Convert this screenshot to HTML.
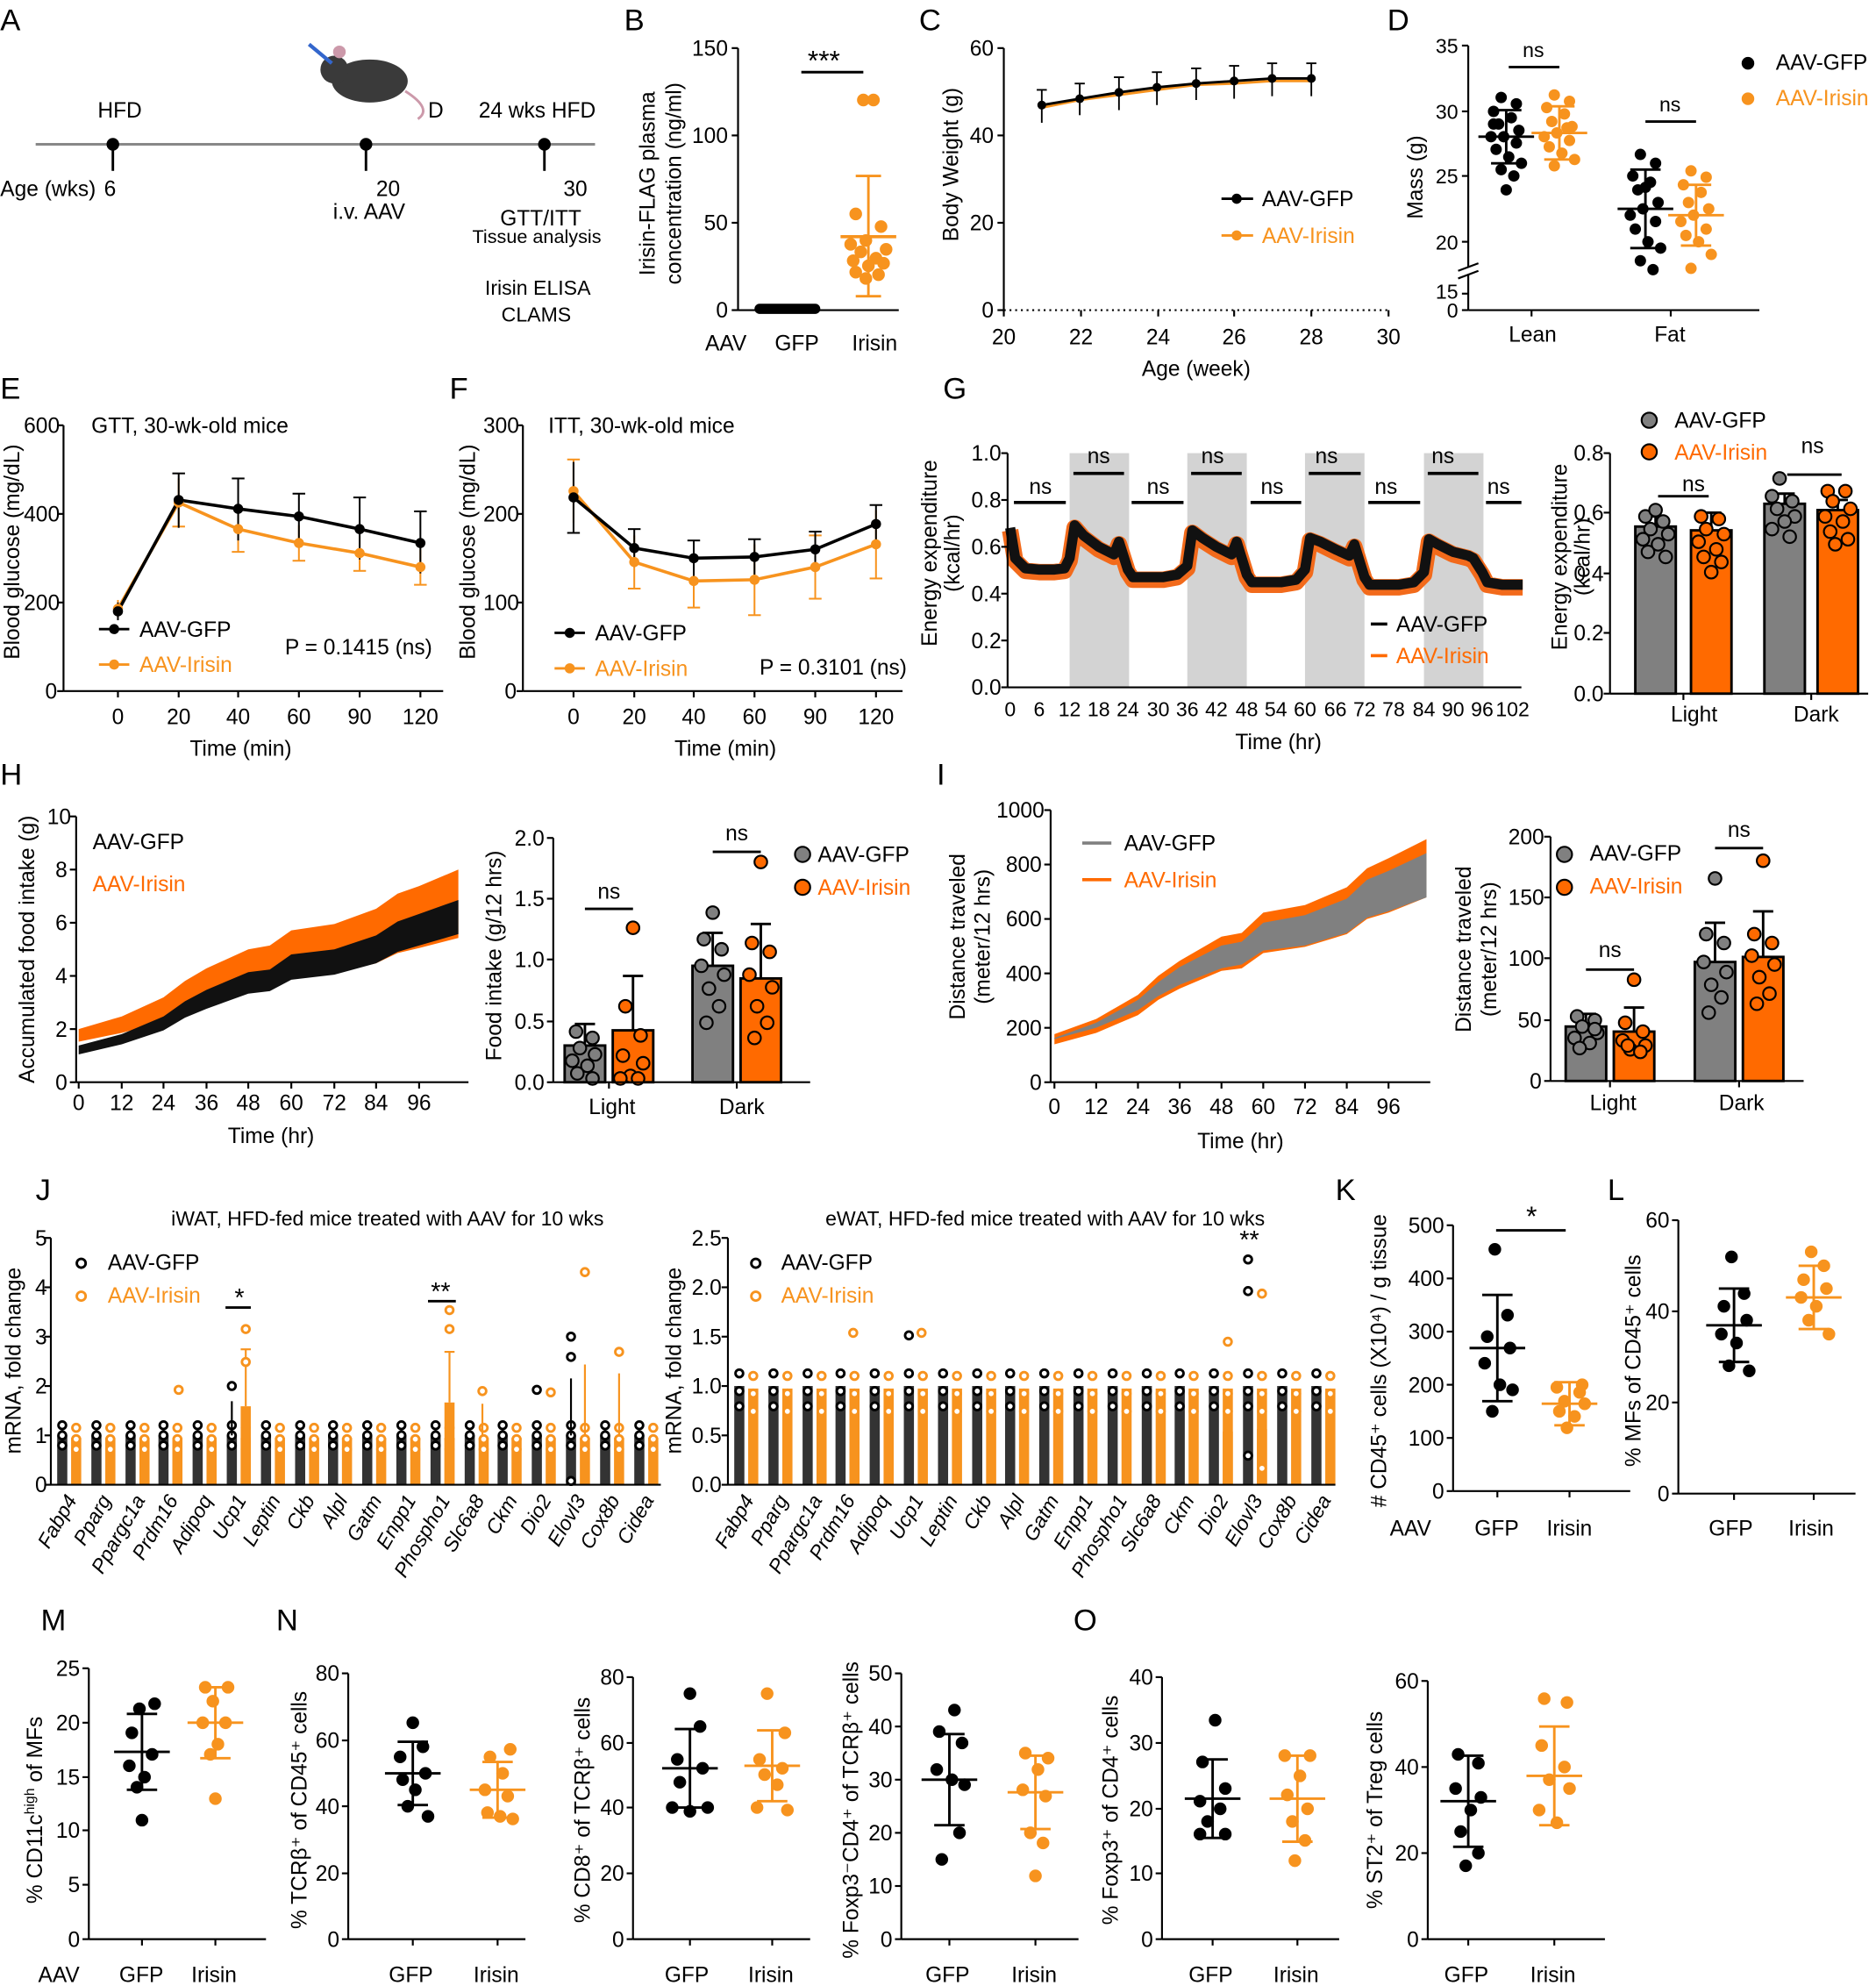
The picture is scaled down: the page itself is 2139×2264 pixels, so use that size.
<!DOCTYPE html>
<html><head><meta charset="utf-8">
<style>html,body{margin:0;padding:0;background:#fff}svg{display:block;font-family:"Liberation Sans",Arial,sans-serif}
.k{fill:#000}.o{fill:#f7931e}.r{fill:#ff6a00;stroke:#000;stroke-width:1.5}.g{fill:#808080;stroke:#000;stroke-width:1.5}
.ax line,.ax polyline{stroke:#000;stroke-width:1.5}
</style>
</head><body>
<svg width="2139" height="2264" viewBox="0 0 1482 1569" xmlns="http://www.w3.org/2000/svg">
<defs>
<g id="jl"><rect x="-10" y="-39" width="8" height="39" fill="#333"/><rect x="1" y="-37" width="8" height="37" fill="#f7931e"/>
<g fill="#fff" stroke-width="2"><circle cx="-6" cy="-47" r="3" stroke="#000"/><circle cx="-6" cy="-39" r="3" stroke="#000"/><circle cx="-6" cy="-31" r="3" stroke="#000"/>
<circle cx="5" cy="-45" r="3" stroke="#f7931e"/><circle cx="5" cy="-36" r="3" stroke="#f7931e"/><circle cx="5" cy="-28" r="3" stroke="#f7931e"/></g></g>
<g id="jr"><rect x="-10" y="-78" width="8" height="78" fill="#333"/><rect x="1" y="-76" width="8" height="76" fill="#f7931e"/>
<g fill="#fff" stroke-width="2"><circle cx="-6" cy="-88" r="3" stroke="#000"/><circle cx="-6" cy="-74" r="3" stroke="#000"/><circle cx="-6" cy="-62" r="3" stroke="#000"/>
<circle cx="5" cy="-86" r="3" stroke="#f7931e"/><circle cx="5" cy="-72" r="3" stroke="#f7931e"/><circle cx="5" cy="-58" r="3" stroke="#f7931e"/></g></g>
</defs>
<rect width="1482" height="1569" fill="#fff"/>
<g font-size="24">
<text x="0" y="24">A</text><text x="493" y="24">B</text><text x="726" y="24">C</text><text x="1096" y="24">D</text>
<text x="0" y="315">E</text><text x="355" y="315">F</text><text x="745" y="315">G</text>
<text x="0" y="620">H</text><text x="740" y="620">I</text>
<text x="28" y="948">J</text><text x="1055" y="948">K</text><text x="1270" y="948">L</text>
<text x="32" y="1288">M</text><text x="218" y="1288">N</text><text x="848" y="1288">O</text>
</g>

<!-- A -->
<g class="ax"><line x1="28" y1="114" x2="470" y2="114" style="stroke:#888;stroke-width:2"/>
<line x1="89" y1="114" x2="89" y2="135" style="stroke-width:2"/><line x1="289" y1="114" x2="289" y2="135" style="stroke-width:2"/><line x1="430" y1="114" x2="430" y2="135" style="stroke-width:2"/></g>
<circle cx="89" cy="114" r="5"/><circle cx="289" cy="114" r="5"/><circle cx="430" cy="114" r="5"/>
<ellipse cx="292" cy="64" rx="30" ry="17" fill="#3a3a3a"/><circle cx="264" cy="55" r="11" fill="#3a3a3a"/><circle cx="268" cy="41" r="5" fill="#c9a"/>
<path d="M320 72 Q342 86 330 94" stroke="#c9a" fill="none" stroke-width="2"/><line x1="244" y1="35" x2="262" y2="50" stroke="#36c" stroke-width="3"/>
<g font-size="17">
<text x="77" y="93">HFD</text><text x="338" y="93">D</text><text x="378" y="93">24 wks HFD</text>
<text x="0" y="155">Age (wks)</text><text x="82" y="155">6</text>
<text x="297" y="155">20</text><text x="263" y="173">i.v. AAV</text>
<text x="445" y="155">30</text><text x="395" y="178">GTT/ITT</text>
<text x="373" y="192" font-size="15">Tissue analysis</text>
<text x="383" y="233" font-size="16">Irisin ELISA</text><text x="396" y="254" font-size="16">CLAMS</text>
</g>

<g font-size="17">
<!-- B -->
<g class="ax"><line x1="583" y1="38" x2="583" y2="245"/><line x1="583" y1="245" x2="710" y2="245"/>
<line x1="578" y1="245" x2="583" y2="245"/><line x1="578" y1="176" x2="583" y2="176"/><line x1="578" y1="107" x2="583" y2="107"/><line x1="578" y1="38" x2="583" y2="38"/></g>
<text x="575" y="251" text-anchor="end">0</text><text x="575" y="182" text-anchor="end">50</text><text x="575" y="113" text-anchor="end">100</text><text x="575" y="44" text-anchor="end">150</text>
<rect x="596" y="240" width="52" height="8" rx="4"/>
<g class="o"><circle cx="682" cy="79" r="5"/><circle cx="690" cy="79" r="5"/><circle cx="676" cy="169" r="5"/><circle cx="696" cy="179" r="5"/><circle cx="684" cy="190" r="5"/><circle cx="672" cy="193" r="5"/><circle cx="700" cy="197" r="5"/><circle cx="680" cy="199" r="5"/><circle cx="692" cy="204" r="5"/><circle cx="674" cy="206" r="5"/><circle cx="698" cy="208" r="5"/><circle cx="686" cy="210" r="5"/><circle cx="676" cy="215" r="5"/><circle cx="694" cy="217" r="5"/><circle cx="684" cy="220" r="5"/></g>
<g stroke="#f7931e" stroke-width="2"><line x1="686" y1="139" x2="686" y2="234"/><line x1="664" y1="187" x2="708" y2="187" stroke-width="2.5"/><line x1="676" y1="139" x2="696" y2="139"/><line x1="676" y1="234" x2="696" y2="234"/></g>
<line x1="633" y1="57" x2="682" y2="57" stroke="#000" stroke-width="2"/>
<text x="638" y="55" font-size="22">***</text>
<text x="557" y="277">AAV</text><text x="612" y="277">GFP</text><text x="673" y="277">Irisin</text>
<text transform="translate(517,145) rotate(-90)" text-anchor="middle">Irisin-FLAG plasma</text>
<text transform="translate(538,145) rotate(-90)" text-anchor="middle">concentration (ng/ml)</text>

<!-- C -->
<g class="ax"><line x1="793" y1="38" x2="793" y2="245"/>
<line x1="788" y1="245" x2="793" y2="245"/><line x1="788" y1="176" x2="793" y2="176"/><line x1="788" y1="107" x2="793" y2="107"/><line x1="788" y1="38" x2="793" y2="38"/>
<line x1="793" y1="245" x2="793" y2="250"/><line x1="854" y1="245" x2="854" y2="250"/><line x1="915" y1="245" x2="915" y2="250"/><line x1="975" y1="245" x2="975" y2="250"/><line x1="1036" y1="245" x2="1036" y2="250"/><line x1="1097" y1="245" x2="1097" y2="250"/></g>
<line x1="793" y1="245" x2="1097" y2="245" stroke="#000" stroke-width="1.5" stroke-dasharray="1.5 3"/>
<text x="785" y="251" text-anchor="end">0</text><text x="785" y="182" text-anchor="end">20</text><text x="785" y="113" text-anchor="end">40</text><text x="785" y="44" text-anchor="end">60</text>
<g text-anchor="middle"><text x="793" y="272">20</text><text x="854" y="272">22</text><text x="915" y="272">24</text><text x="975" y="272">26</text><text x="1036" y="272">28</text><text x="1097" y="272">30</text></g>
<polyline points="823,85 853,79 884,75 914,71 945,67 975,66 1005,64 1036,64" fill="none" stroke="#f7931e" stroke-width="2"/>
<polyline points="823,83 853,78 884,73 914,69 945,66 975,64 1005,62 1036,62" fill="none" stroke="#000" stroke-width="2"/>
<g stroke="#000" stroke-width="1.3"><line x1="823" y1="71" x2="823" y2="97"/><line x1="853" y1="66" x2="853" y2="91"/><line x1="884" y1="61" x2="884" y2="87"/><line x1="914" y1="57" x2="914" y2="83"/><line x1="945" y1="54" x2="945" y2="79"/><line x1="975" y1="52" x2="975" y2="78"/><line x1="1005" y1="50" x2="1005" y2="76"/><line x1="1036" y1="50" x2="1036" y2="76"/>
<line x1="819" y1="71" x2="827" y2="71"/><line x1="849" y1="66" x2="857" y2="66"/><line x1="880" y1="61" x2="888" y2="61"/><line x1="910" y1="57" x2="918" y2="57"/><line x1="941" y1="54" x2="949" y2="54"/><line x1="971" y1="52" x2="979" y2="52"/><line x1="1001" y1="50" x2="1009" y2="50"/><line x1="1032" y1="50" x2="1040" y2="50"/></g>
<g><circle cx="823" cy="83" r="3.5"/><circle cx="853" cy="78" r="3.5"/><circle cx="884" cy="73" r="3.5"/><circle cx="914" cy="69" r="3.5"/><circle cx="945" cy="66" r="3.5"/><circle cx="975" cy="64" r="3.5"/><circle cx="1005" cy="62" r="3.5"/><circle cx="1036" cy="62" r="3.5"/></g>
<line x1="965" y1="157" x2="990" y2="157" stroke="#000" stroke-width="2"/><circle cx="977" cy="157" r="4"/>
<line x1="965" y1="186" x2="990" y2="186" stroke="#f7931e" stroke-width="2"/><circle cx="977" cy="186" r="4" class="o"/>
<text x="997" y="163">AAV-GFP</text><text x="997" y="192" fill="#f7931e">AAV-Irisin</text>
<text transform="translate(757,130) rotate(-90)" text-anchor="middle">Body Weight (g)</text>
<text x="945" y="297" text-anchor="middle">Age (week)</text>

<!-- D -->
<g class="ax"><line x1="1160" y1="36" x2="1160" y2="245"/><line x1="1160" y1="245" x2="1390" y2="245"/>
<line x1="1155" y1="36" x2="1160" y2="36"/><line x1="1155" y1="88" x2="1160" y2="88"/><line x1="1155" y1="139" x2="1160" y2="139"/><line x1="1155" y1="191" x2="1160" y2="191"/><line x1="1155" y1="232" x2="1160" y2="232"/><line x1="1155" y1="245" x2="1160" y2="245"/>
<line x1="1210" y1="245" x2="1210" y2="250"/><line x1="1320" y1="245" x2="1320" y2="250"/></g>
<line x1="1152" y1="217" x2="1168" y2="211" stroke="#fff" stroke-width="5"/><line x1="1152" y1="214" x2="1168" y2="208" stroke="#000" stroke-width="1.5"/><line x1="1152" y1="220" x2="1168" y2="214" stroke="#000" stroke-width="1.5"/>
<g text-anchor="end" font-size="16"><text x="1152" y="42">35</text><text x="1152" y="94">30</text><text x="1152" y="145">25</text><text x="1152" y="197">20</text><text x="1152" y="236">15</text><text x="1152" y="251">0</text></g>
<g transform="translate(1190,0)"><circle cx="-4" cy="77" r="4.5"/><circle cx="8" cy="82" r="4.5"/><circle cx="-10" cy="88" r="4.5"/><circle cx="4" cy="93" r="4.5"/><circle cx="-6" cy="98" r="4.5"/><circle cx="10" cy="103" r="4.5"/><circle cx="-2" cy="108" r="4.5"/><circle cx="-12" cy="108" r="4.5"/><circle cx="8" cy="113" r="4.5"/><circle cx="-8" cy="118" r="4.5"/><circle cx="2" cy="124" r="4.5"/><circle cx="12" cy="129" r="4.5"/><circle cx="-4" cy="134" r="4.5"/><circle cx="6" cy="139" r="4.5"/><circle cx="0" cy="150" r="4.5"/><circle cx="-10" cy="98" r="4.5"/>
<g stroke="#000" stroke-width="2"><line x1="-22" y1="108" x2="22" y2="108"/><line x1="0" y1="87" x2="0" y2="129"/><line x1="-12" y1="87" x2="12" y2="87"/><line x1="-12" y1="129" x2="12" y2="129"/></g></g>
<g transform="translate(1232,0)" class="o"><circle cx="-4" cy="75" r="4.5"/><circle cx="8" cy="80" r="4.5"/><circle cx="-10" cy="85" r="4.5"/><circle cx="4" cy="90" r="4.5"/><circle cx="-6" cy="96" r="4.5"/><circle cx="10" cy="100" r="4.5"/><circle cx="-2" cy="105" r="4.5"/><circle cx="-12" cy="108" r="4.5"/><circle cx="8" cy="111" r="4.5"/><circle cx="-8" cy="116" r="4.5"/><circle cx="2" cy="121" r="4.5"/><circle cx="12" cy="126" r="4.5"/><circle cx="-4" cy="131" r="4.5"/><circle cx="6" cy="101" r="4.5"/>
<g stroke="#f7931e" stroke-width="2"><line x1="-22" y1="105" x2="22" y2="105"/><line x1="0" y1="84" x2="0" y2="126"/><line x1="-12" y1="84" x2="12" y2="84"/><line x1="-12" y1="126" x2="12" y2="126"/></g></g>
<g transform="translate(1300,0)"><circle cx="-4" cy="122" r="4.5"/><circle cx="8" cy="129" r="4.5"/><circle cx="-10" cy="139" r="4.5"/><circle cx="4" cy="144" r="4.5"/><circle cx="-6" cy="150" r="4.5"/><circle cx="10" cy="160" r="4.5"/><circle cx="-2" cy="165" r="4.5"/><circle cx="-12" cy="170" r="4.5"/><circle cx="8" cy="175" r="4.5"/><circle cx="-8" cy="181" r="4.5"/><circle cx="2" cy="191" r="4.5"/><circle cx="12" cy="196" r="4.5"/><circle cx="-4" cy="206" r="4.5"/><circle cx="6" cy="213" r="4.5"/><circle cx="0" cy="148" r="4.5"/>
<g stroke="#000" stroke-width="2"><line x1="-22" y1="165" x2="22" y2="165"/><line x1="0" y1="134" x2="0" y2="196"/><line x1="-12" y1="134" x2="12" y2="134"/><line x1="-12" y1="196" x2="12" y2="196"/></g></g>
<g transform="translate(1340,0)" class="o"><circle cx="-4" cy="135" r="4.5"/><circle cx="8" cy="140" r="4.5"/><circle cx="-10" cy="146" r="4.5"/><circle cx="4" cy="152" r="4.5"/><circle cx="-6" cy="160" r="4.5"/><circle cx="10" cy="165" r="4.5"/><circle cx="-2" cy="170" r="4.5"/><circle cx="-12" cy="175" r="4.5"/><circle cx="8" cy="181" r="4.5"/><circle cx="-8" cy="186" r="4.5"/><circle cx="2" cy="191" r="4.5"/><circle cx="12" cy="201" r="4.5"/><circle cx="-4" cy="212" r="4.5"/>
<g stroke="#f7931e" stroke-width="2"><line x1="-22" y1="170" x2="22" y2="170"/><line x1="0" y1="146" x2="0" y2="194"/><line x1="-12" y1="146" x2="12" y2="146"/><line x1="-12" y1="194" x2="12" y2="194"/></g></g>
<line x1="1192" y1="53" x2="1232" y2="53" stroke="#000" stroke-width="2"/><line x1="1300" y1="96" x2="1340" y2="96" stroke="#000" stroke-width="2"/>
<text x="1203" y="45" font-size="16">ns</text><text x="1311" y="88" font-size="16">ns</text>
<text transform="translate(1124,140) rotate(-90)" text-anchor="middle">Mass (g)</text>
<text x="1192" y="270">Lean</text><text x="1307" y="270">Fat</text>
<circle cx="1381" cy="50" r="5"/><circle cx="1381" cy="78" r="5" class="o"/>
<text x="1403" y="55">AAV-GFP</text><text x="1403" y="83" fill="#f7931e">AAV-Irisin</text>

<!-- E -->
<g class="ax"><line x1="50" y1="336" x2="50" y2="546"/><line x1="50" y1="546" x2="350" y2="546"/>
<line x1="45" y1="546" x2="50" y2="546"/><line x1="45" y1="476" x2="50" y2="476"/><line x1="45" y1="406" x2="50" y2="406"/><line x1="45" y1="336" x2="50" y2="336"/>
<line x1="93" y1="546" x2="93" y2="551"/><line x1="141" y1="546" x2="141" y2="551"/><line x1="188" y1="546" x2="188" y2="551"/><line x1="236" y1="546" x2="236" y2="551"/><line x1="284" y1="546" x2="284" y2="551"/><line x1="332" y1="546" x2="332" y2="551"/></g>
<g text-anchor="end"><text x="45" y="552">0</text><text x="47" y="482">200</text><text x="47" y="412">400</text><text x="47" y="342">600</text></g>
<g text-anchor="middle"><text x="93" y="572">0</text><text x="141" y="572">20</text><text x="188" y="572">40</text><text x="236" y="572">60</text><text x="284" y="572">90</text><text x="332" y="572">120</text></g>
<g stroke="#f7931e" stroke-width="1.4"><line x1="93" y1="474" x2="93" y2="488"/><line x1="141" y1="378" x2="141" y2="416"/><line x1="188" y1="400" x2="188" y2="436"/><line x1="236" y1="415" x2="236" y2="443"/><line x1="284" y1="423" x2="284" y2="451"/><line x1="332" y1="434" x2="332" y2="462"/>
<line x1="136" y1="416" x2="146" y2="416"/><line x1="183" y1="436" x2="193" y2="436"/><line x1="231" y1="443" x2="241" y2="443"/><line x1="279" y1="451" x2="289" y2="451"/><line x1="327" y1="462" x2="337" y2="462"/></g>
<g stroke="#000" stroke-width="1.4"><line x1="93" y1="476" x2="93" y2="490"/><line x1="141" y1="374" x2="141" y2="417"/><line x1="188" y1="378" x2="188" y2="427"/><line x1="236" y1="390" x2="236" y2="426"/><line x1="284" y1="393" x2="284" y2="442"/><line x1="332" y1="404" x2="332" y2="453"/>
<line x1="136" y1="374" x2="146" y2="374"/><line x1="183" y1="378" x2="193" y2="378"/><line x1="231" y1="390" x2="241" y2="390"/><line x1="279" y1="393" x2="289" y2="393"/><line x1="327" y1="404" x2="337" y2="404"/></g>
<polyline points="93,481 141,397 188,418 236,429 284,437 332,448" fill="none" stroke="#f7931e" stroke-width="2.5"/>
<polyline points="93,483 141,395 188,402 236,408 284,418 332,429" fill="none" stroke="#000" stroke-width="2.5"/>
<g class="o"><circle cx="93" cy="481" r="4"/><circle cx="141" cy="397" r="4"/><circle cx="188" cy="418" r="4"/><circle cx="236" cy="429" r="4"/><circle cx="284" cy="437" r="4"/><circle cx="332" cy="448" r="4"/></g>
<g><circle cx="93" cy="483" r="4"/><circle cx="141" cy="395" r="4"/><circle cx="188" cy="402" r="4"/><circle cx="236" cy="408" r="4"/><circle cx="284" cy="418" r="4"/><circle cx="332" cy="429" r="4"/></g>
<line x1="78" y1="497" x2="102" y2="497" stroke="#000" stroke-width="2"/><circle cx="90" cy="497" r="4"/>
<line x1="78" y1="525" x2="102" y2="525" stroke="#f7931e" stroke-width="2"/><circle cx="90" cy="525" r="4" class="o"/>
<text x="72" y="342">GTT, 30-wk-old mice</text>
<text transform="translate(15,436) rotate(-90)" text-anchor="middle">Blood glucose (mg/dL)</text>
<text x="190" y="597" text-anchor="middle">Time (min)</text>
<text x="110" y="503">AAV-GFP</text><text x="110" y="531" fill="#f7931e">AAV-Irisin</text>
<text x="225" y="517">P = 0.1415 (ns)</text>

<!-- F -->
<g class="ax"><line x1="413" y1="336" x2="413" y2="546"/><line x1="413" y1="546" x2="713" y2="546"/>
<line x1="408" y1="546" x2="413" y2="546"/><line x1="408" y1="476" x2="413" y2="476"/><line x1="408" y1="406" x2="413" y2="406"/><line x1="408" y1="336" x2="413" y2="336"/>
<line x1="453" y1="546" x2="453" y2="551"/><line x1="501" y1="546" x2="501" y2="551"/><line x1="548" y1="546" x2="548" y2="551"/><line x1="596" y1="546" x2="596" y2="551"/><line x1="644" y1="546" x2="644" y2="551"/><line x1="692" y1="546" x2="692" y2="551"/></g>
<g text-anchor="end"><text x="408" y="552">0</text><text x="410" y="482">100</text><text x="410" y="412">200</text><text x="410" y="342">300</text></g>
<g text-anchor="middle"><text x="453" y="572">0</text><text x="501" y="572">20</text><text x="548" y="572">40</text><text x="596" y="572">60</text><text x="644" y="572">90</text><text x="692" y="572">120</text></g>
<g stroke="#f7931e" stroke-width="1.4"><line x1="453" y1="363" x2="453" y2="413"/><line x1="501" y1="423" x2="501" y2="465"/><line x1="548" y1="438" x2="548" y2="480"/><line x1="596" y1="430" x2="596" y2="486"/><line x1="644" y1="423" x2="644" y2="473"/><line x1="692" y1="403" x2="692" y2="457"/>
<line x1="448" y1="363" x2="458" y2="363"/><line x1="496" y1="465" x2="506" y2="465"/><line x1="543" y1="480" x2="553" y2="480"/><line x1="591" y1="486" x2="601" y2="486"/><line x1="639" y1="473" x2="649" y2="473"/><line x1="687" y1="457" x2="697" y2="457"/><line x1="639" y1="423" x2="649" y2="423"/></g>
<g stroke="#000" stroke-width="1.4"><line x1="453" y1="365" x2="453" y2="421"/><line x1="501" y1="418" x2="501" y2="448"/><line x1="548" y1="427" x2="548" y2="455"/><line x1="596" y1="426" x2="596" y2="454"/><line x1="644" y1="420" x2="644" y2="448"/><line x1="692" y1="399" x2="692" y2="429"/>
<line x1="448" y1="421" x2="458" y2="421"/><line x1="496" y1="418" x2="506" y2="418"/><line x1="543" y1="427" x2="553" y2="427"/><line x1="591" y1="426" x2="601" y2="426"/><line x1="639" y1="420" x2="649" y2="420"/><line x1="687" y1="399" x2="697" y2="399"/></g>
<polyline points="453,388 501,444 548,459 596,458 644,448 692,430" fill="none" stroke="#f7931e" stroke-width="2.5"/>
<polyline points="453,393 501,433 548,441 596,440 644,434 692,414" fill="none" stroke="#000" stroke-width="2.5"/>
<g class="o"><circle cx="453" cy="388" r="4"/><circle cx="501" cy="444" r="4"/><circle cx="548" cy="459" r="4"/><circle cx="596" cy="458" r="4"/><circle cx="644" cy="448" r="4"/><circle cx="692" cy="430" r="4"/></g>
<g><circle cx="453" cy="393" r="4"/><circle cx="501" cy="433" r="4"/><circle cx="548" cy="441" r="4"/><circle cx="596" cy="440" r="4"/><circle cx="644" cy="434" r="4"/><circle cx="692" cy="414" r="4"/></g>
<line x1="438" y1="500" x2="462" y2="500" stroke="#000" stroke-width="2"/><circle cx="450" cy="500" r="4"/>
<line x1="438" y1="528" x2="462" y2="528" stroke="#f7931e" stroke-width="2"/><circle cx="450" cy="528" r="4" class="o"/>
<text x="433" y="342">ITT, 30-wk-old mice</text>
<text transform="translate(375,436) rotate(-90)" text-anchor="middle">Blood glucose (mg/dL)</text>
<text x="573" y="597" text-anchor="middle">Time (min)</text>
<text x="470" y="506">AAV-GFP</text><text x="470" y="534" fill="#f7931e">AAV-Irisin</text>
<text x="600" y="533">P = 0.3101 (ns)</text>

<!-- G -->
<g fill="#d3d3d3"><rect x="845" y="358" width="47" height="185"/><rect x="938" y="358" width="47" height="185"/><rect x="1031" y="358" width="47" height="185"/><rect x="1125" y="358" width="47" height="185"/></g>
<polyline points="798,419 802,443 810,451 821,452 833,452 841,451 845,443 849,417 856,425 868,434 880,440 884,430 891,452 895,458 907,458 919,458 930,456 938,449 942,421 950,427 961,434 973,440 977,430 985,456 989,462 1000,462 1012,462 1024,460 1031,452 1035,427 1043,430 1055,436 1066,441 1070,432 1078,458 1082,464 1094,464 1105,464 1117,462 1125,454 1129,428 1136,432 1148,438 1160,441 1164,443 1171,454 1175,462 1187,464 1203,464" fill="none" stroke="#f26a1b" stroke-width="13" stroke-linejoin="round"/>
<polyline points="798,417 802,441 810,449 821,450 833,450 841,449 845,441 849,415 856,423 868,432 880,438 884,428 891,450 895,456 907,456 919,456 930,454 938,447 942,419 950,425 961,432 973,438 977,428 985,454 989,460 1000,460 1012,460 1024,458 1031,450 1035,425 1043,428 1055,434 1066,439 1070,430 1078,456 1082,462 1094,462 1105,462 1117,460 1125,452 1129,426 1136,430 1148,436 1160,439 1164,441 1171,452 1175,460 1187,462 1203,462" fill="none" stroke="#111" stroke-width="8" stroke-linejoin="round"/>
<g class="ax"><line x1="796" y1="358" x2="796" y2="543"/><line x1="796" y1="543" x2="1202" y2="543"/>
<line x1="791" y1="543" x2="796" y2="543"/><line x1="791" y1="506" x2="796" y2="506"/><line x1="791" y1="469" x2="796" y2="469"/><line x1="791" y1="432" x2="796" y2="432"/><line x1="791" y1="395" x2="796" y2="395"/><line x1="791" y1="358" x2="796" y2="358"/></g>
<g text-anchor="end"><text x="791" y="549">0.0</text><text x="791" y="512">0.2</text><text x="791" y="475">0.4</text><text x="791" y="438">0.6</text><text x="791" y="401">0.8</text><text x="791" y="364">1.0</text></g>
<g text-anchor="middle" font-size="16"><text x="798" y="566">0</text><text x="821" y="566">6</text><text x="845" y="566">12</text><text x="868" y="566">18</text><text x="891" y="566">24</text><text x="915" y="566">30</text><text x="938" y="566">36</text><text x="961" y="566">42</text><text x="985" y="566">48</text><text x="1008" y="566">54</text><text x="1031" y="566">60</text><text x="1055" y="566">66</text><text x="1078" y="566">72</text><text x="1101" y="566">78</text><text x="1125" y="566">84</text><text x="1148" y="566">90</text><text x="1171" y="566">96</text><text x="1195" y="566">102</text></g>
<g stroke="#000" stroke-width="2.5"><line x1="801" y1="397" x2="842" y2="397"/><line x1="848" y1="374" x2="888" y2="374"/><line x1="894" y1="397" x2="935" y2="397"/><line x1="941" y1="374" x2="981" y2="374"/><line x1="988" y1="397" x2="1028" y2="397"/><line x1="1034" y1="374" x2="1075" y2="374"/><line x1="1081" y1="397" x2="1122" y2="397"/><line x1="1128" y1="374" x2="1168" y2="374"/><line x1="1174" y1="397" x2="1202" y2="397"/></g>
<g text-anchor="middle"><text x="822" y="390">ns</text><text x="868" y="366">ns</text><text x="915" y="390">ns</text><text x="958" y="366">ns</text><text x="1005" y="390">ns</text><text x="1048" y="366">ns</text><text x="1095" y="390">ns</text><text x="1140" y="366">ns</text><text x="1184" y="390">ns</text></g>
<line x1="1083" y1="493" x2="1096" y2="493" stroke="#000" stroke-width="2.5"/><line x1="1083" y1="518" x2="1096" y2="518" stroke="#ff6a00" stroke-width="2.5"/>
<text x="1103" y="499">AAV-GFP</text><text x="1103" y="524" fill="#ff6a00">AAV-Irisin</text>
<text transform="translate(740,437) rotate(-90)" text-anchor="middle">Energy expenditure</text>
<text transform="translate(758,437) rotate(-90)" text-anchor="middle">(kcal/hr)</text>
<text x="1010" y="592" text-anchor="middle">Time (hr)</text>

<!-- G bars -->
<rect x="1292" y="416" width="32" height="132" class="g" style="stroke-width:2"/><rect x="1336" y="419" width="32" height="129" class="r" style="stroke-width:2"/>
<rect x="1394" y="398" width="32" height="150" class="g" style="stroke-width:2"/><rect x="1436" y="403" width="32" height="145" class="r" style="stroke-width:2"/>
<g stroke="#000" stroke-width="2"><line x1="1308" y1="416" x2="1308" y2="408"/><line x1="1300" y1="408" x2="1316" y2="408"/><line x1="1352" y1="419" x2="1352" y2="405"/><line x1="1344" y1="405" x2="1360" y2="405"/><line x1="1410" y1="398" x2="1410" y2="390"/><line x1="1402" y1="390" x2="1418" y2="390"/><line x1="1452" y1="403" x2="1452" y2="395"/><line x1="1444" y1="395" x2="1460" y2="395"/></g>
<g class="g"><circle cx="1300" cy="408" r="5"/><circle cx="1314" cy="412" r="5"/><circle cx="1304" cy="418" r="5"/><circle cx="1318" cy="422" r="5"/><circle cx="1298" cy="426" r="5"/><circle cx="1310" cy="430" r="5"/><circle cx="1302" cy="436" r="5"/><circle cx="1316" cy="440" r="5"/><circle cx="1308" cy="403" r="5"/>
<circle cx="1406" cy="378" r="5"/><circle cx="1400" cy="392" r="5"/><circle cx="1416" cy="396" r="5"/><circle cx="1404" cy="402" r="5"/><circle cx="1418" cy="408" r="5"/><circle cx="1410" cy="412" r="5"/><circle cx="1400" cy="418" r="5"/><circle cx="1414" cy="424" r="5"/></g>
<g class="r"><circle cx="1344" cy="408" r="5"/><circle cx="1358" cy="410" r="5"/><circle cx="1348" cy="418" r="5"/><circle cx="1362" cy="422" r="5"/><circle cx="1342" cy="428" r="5"/><circle cx="1356" cy="434" r="5"/><circle cx="1346" cy="440" r="5"/><circle cx="1360" cy="444" r="5"/><circle cx="1352" cy="452" r="5"/>
<circle cx="1444" cy="388" r="5"/><circle cx="1458" cy="388" r="5"/><circle cx="1448" cy="396" r="5"/><circle cx="1462" cy="402" r="5"/><circle cx="1442" cy="408" r="5"/><circle cx="1456" cy="412" r="5"/><circle cx="1446" cy="420" r="5"/><circle cx="1460" cy="426" r="5"/><circle cx="1450" cy="430" r="5"/></g>
<g class="ax"><line x1="1272" y1="358" x2="1272" y2="548"/><line x1="1272" y1="548" x2="1476" y2="548"/>
<line x1="1267" y1="548" x2="1272" y2="548"/><line x1="1267" y1="500" x2="1272" y2="500"/><line x1="1267" y1="453" x2="1272" y2="453"/><line x1="1267" y1="405" x2="1272" y2="405"/><line x1="1267" y1="358" x2="1272" y2="358"/>
<line x1="1330" y1="548" x2="1330" y2="553"/><line x1="1431" y1="548" x2="1431" y2="553"/></g>
<g text-anchor="end"><text x="1267" y="554">0.0</text><text x="1267" y="506">0.2</text><text x="1267" y="459">0.4</text><text x="1267" y="411">0.6</text><text x="1267" y="364">0.8</text></g>
<line x1="1310" y1="392" x2="1350" y2="392" stroke="#000" stroke-width="2"/><text x="1338" y="388" text-anchor="middle">ns</text>
<line x1="1412" y1="375" x2="1455" y2="375" stroke="#000" stroke-width="2"/><text x="1432" y="358" text-anchor="middle">ns</text>
<circle cx="1303" cy="332" r="6" class="g"/><circle cx="1303" cy="357" r="6" class="r"/>
<text x="1323" y="338">AAV-GFP</text><text x="1323" y="363" fill="#ff6a00">AAV-Irisin</text>
<text transform="translate(1238,440) rotate(-90)" text-anchor="middle">Energy expenditure</text>
<text transform="translate(1256,440) rotate(-90)" text-anchor="middle">(kcal/hr)</text>
<text x="1320" y="570">Light</text><text x="1417" y="570">Dark</text>

<!-- H -->
<polygon points="62,813 96,803 129,788 146,775 163,765 196,750 213,747 230,735 264,730 297,718 314,706 331,700 362,687 362,741 331,749 314,753 297,761 264,769 230,772 213,780 196,782 163,792 146,798 129,807 96,816 62,823" fill="#ff6a00"/>
<polygon points="62,826 96,817 129,803 146,791 163,782 196,768 213,766 230,754 264,750 297,739 314,728 331,722 362,711 362,738 331,747 314,752 297,761 264,770 230,774 213,783 196,785 163,797 146,804 129,814 96,825 62,833" fill="#111"/>
<g class="ax"><line x1="60" y1="645" x2="60" y2="855"/><line x1="60" y1="855" x2="370" y2="855"/>
<line x1="55" y1="855" x2="60" y2="855"/><line x1="55" y1="813" x2="60" y2="813"/><line x1="55" y1="771" x2="60" y2="771"/><line x1="55" y1="729" x2="60" y2="729"/><line x1="55" y1="687" x2="60" y2="687"/><line x1="55" y1="645" x2="60" y2="645"/>
<line x1="62" y1="855" x2="62" y2="860"/><line x1="96" y1="855" x2="96" y2="860"/><line x1="129" y1="855" x2="129" y2="860"/><line x1="163" y1="855" x2="163" y2="860"/><line x1="196" y1="855" x2="196" y2="860"/><line x1="230" y1="855" x2="230" y2="860"/><line x1="264" y1="855" x2="264" y2="860"/><line x1="297" y1="855" x2="297" y2="860"/><line x1="331" y1="855" x2="331" y2="860"/></g>
<g text-anchor="end"><text x="53" y="861">0</text><text x="53" y="819">2</text><text x="53" y="777">4</text><text x="53" y="735">6</text><text x="53" y="693">8</text><text x="56" y="651">10</text></g>
<g text-anchor="middle"><text x="62" y="877">0</text><text x="96" y="877">12</text><text x="129" y="877">24</text><text x="163" y="877">36</text><text x="196" y="877">48</text><text x="230" y="877">60</text><text x="264" y="877">72</text><text x="297" y="877">84</text><text x="331" y="877">96</text></g>
<text transform="translate(27,750) rotate(-90)" text-anchor="middle">Accumulated food intake (g)</text>
<text x="214" y="903" text-anchor="middle">Time (hr)</text>
<text x="73" y="671">AAV-GFP</text><text x="73" y="704" fill="#ff6a00">AAV-Irisin</text>

<!-- H bars -->
<rect x="446" y="826" width="32" height="29" class="g" style="stroke-width:2"/><rect x="484" y="814" width="32" height="41" class="r" style="stroke-width:2"/>
<rect x="547" y="763" width="32" height="92" class="g" style="stroke-width:2"/><rect x="585" y="773" width="32" height="82" class="r" style="stroke-width:2"/>
<g stroke="#000" stroke-width="2"><line x1="462" y1="826" x2="462" y2="809"/><line x1="454" y1="809" x2="470" y2="809"/><line x1="500" y1="814" x2="500" y2="771"/><line x1="492" y1="771" x2="508" y2="771"/><line x1="563" y1="763" x2="563" y2="737"/><line x1="555" y1="737" x2="571" y2="737"/><line x1="601" y1="773" x2="601" y2="730"/><line x1="593" y1="730" x2="609" y2="730"/></g>
<g class="g"><circle cx="455" cy="815" r="5"/><circle cx="468" cy="820" r="5"/><circle cx="458" cy="828" r="5"/><circle cx="470" cy="833" r="5"/><circle cx="452" cy="838" r="5"/><circle cx="464" cy="842" r="5"/><circle cx="456" cy="848" r="5"/><circle cx="468" cy="852" r="5"/>
<circle cx="563" cy="721" r="5"/><circle cx="556" cy="742" r="5"/><circle cx="570" cy="750" r="5"/><circle cx="554" cy="763" r="5"/><circle cx="572" cy="770" r="5"/><circle cx="560" cy="781" r="5"/><circle cx="568" cy="795" r="5"/><circle cx="558" cy="808" r="5"/></g>
<g class="r"><circle cx="500" cy="733" r="5"/><circle cx="494" cy="795" r="5"/><circle cx="506" cy="818" r="5"/><circle cx="492" cy="834" r="5"/><circle cx="508" cy="840" r="5"/><circle cx="498" cy="850" r="5"/><circle cx="504" cy="852" r="5"/><circle cx="490" cy="852" r="5"/>
<circle cx="601" cy="681" r="5"/><circle cx="594" cy="745" r="5"/><circle cx="608" cy="752" r="5"/><circle cx="592" cy="770" r="5"/><circle cx="610" cy="780" r="5"/><circle cx="598" cy="795" r="5"/><circle cx="606" cy="808" r="5"/><circle cx="596" cy="820" r="5"/></g>
<g class="ax"><line x1="437" y1="662" x2="437" y2="855"/><line x1="437" y1="855" x2="640" y2="855"/>
<line x1="432" y1="855" x2="437" y2="855"/><line x1="432" y1="807" x2="437" y2="807"/><line x1="432" y1="758" x2="437" y2="758"/><line x1="432" y1="710" x2="437" y2="710"/><line x1="432" y1="662" x2="437" y2="662"/>
<line x1="481" y1="855" x2="481" y2="860"/><line x1="582" y1="855" x2="582" y2="860"/></g>
<g text-anchor="end"><text x="430" y="861">0.0</text><text x="430" y="813">0.5</text><text x="430" y="764">1.0</text><text x="430" y="716">1.5</text><text x="430" y="668">2.0</text></g>
<line x1="462" y1="718" x2="500" y2="718" stroke="#000" stroke-width="2"/><text x="481" y="710" text-anchor="middle">ns</text>
<line x1="563" y1="673" x2="601" y2="673" stroke="#000" stroke-width="2"/><text x="582" y="664" text-anchor="middle">ns</text>
<circle cx="634" cy="675" r="6" class="g"/><circle cx="634" cy="701" r="6" class="r"/>
<text x="646" y="681">AAV-GFP</text><text x="646" y="707" fill="#ff6a00">AAV-Irisin</text>
<text transform="translate(396,755) rotate(-90)" text-anchor="middle">Food intake (g/12 hrs)</text>
<text x="465" y="880">Light</text><text x="568" y="880">Dark</text>

<!-- I -->
<polygon points="833,817 866,805 899,786 915,771 932,759 965,740 981,737 998,721 1031,715 1064,701 1080,686 1097,678 1127,663 1127,709 1097,721 1080,726 1064,738 1031,748 998,753 981,765 965,767 932,781 915,790 899,802 866,816 833,825" fill="#ff6a00"/>
<polygon points="833,820 866,808 899,790 915,776 932,764 965,747 981,744 998,729 1031,723 1064,710 1080,695 1097,688 1127,674 1127,709 1097,720 1080,725 1064,737 1031,747 998,751 981,762 965,765 932,778 915,787 899,798 866,812 833,821" fill="#808080"/>
<g class="ax"><line x1="830" y1="640" x2="830" y2="855"/><line x1="830" y1="855" x2="1130" y2="855"/>
<line x1="825" y1="855" x2="830" y2="855"/><line x1="825" y1="812" x2="830" y2="812"/><line x1="825" y1="769" x2="830" y2="769"/><line x1="825" y1="726" x2="830" y2="726"/><line x1="825" y1="683" x2="830" y2="683"/><line x1="825" y1="640" x2="830" y2="640"/>
<line x1="833" y1="855" x2="833" y2="860"/><line x1="866" y1="855" x2="866" y2="860"/><line x1="899" y1="855" x2="899" y2="860"/><line x1="932" y1="855" x2="932" y2="860"/><line x1="965" y1="855" x2="965" y2="860"/><line x1="998" y1="855" x2="998" y2="860"/><line x1="1031" y1="855" x2="1031" y2="860"/><line x1="1064" y1="855" x2="1064" y2="860"/><line x1="1097" y1="855" x2="1097" y2="860"/></g>
<g text-anchor="end"><text x="823" y="861">0</text><text x="823" y="818">200</text><text x="823" y="775">400</text><text x="823" y="732">600</text><text x="823" y="689">800</text><text x="825" y="646">1000</text></g>
<g text-anchor="middle"><text x="833" y="880">0</text><text x="866" y="880">12</text><text x="899" y="880">24</text><text x="932" y="880">36</text><text x="965" y="880">48</text><text x="998" y="880">60</text><text x="1031" y="880">72</text><text x="1064" y="880">84</text><text x="1097" y="880">96</text></g>
<line x1="855" y1="666" x2="878" y2="666" stroke="#808080" stroke-width="2.5"/><line x1="855" y1="695" x2="878" y2="695" stroke="#ff6a00" stroke-width="2.5"/>
<text x="888" y="672">AAV-GFP</text><text x="888" y="701" fill="#ff6a00">AAV-Irisin</text>
<text transform="translate(762,740) rotate(-90)" text-anchor="middle">Distance traveled</text>
<text transform="translate(782,740) rotate(-90)" text-anchor="middle">(meter/12 hrs)</text>
<text x="980" y="907" text-anchor="middle">Time (hr)</text>

<!-- I bars -->
<rect x="1237" y="811" width="32" height="43" class="g" style="stroke-width:2"/><rect x="1275" y="815" width="32" height="39" class="r" style="stroke-width:2"/>
<rect x="1339" y="760" width="32" height="94" class="g" style="stroke-width:2"/><rect x="1377" y="756" width="32" height="98" class="r" style="stroke-width:2"/>
<g stroke="#000" stroke-width="2"><line x1="1253" y1="811" x2="1253" y2="801"/><line x1="1245" y1="801" x2="1261" y2="801"/><line x1="1291" y1="815" x2="1291" y2="796"/><line x1="1283" y1="796" x2="1299" y2="796"/><line x1="1355" y1="760" x2="1355" y2="729"/><line x1="1347" y1="729" x2="1363" y2="729"/><line x1="1393" y1="756" x2="1393" y2="720"/><line x1="1385" y1="720" x2="1401" y2="720"/></g>
<g class="g"><circle cx="1246" cy="803" r="5"/><circle cx="1260" cy="806" r="5"/><circle cx="1250" cy="811" r="5"/><circle cx="1262" cy="816" r="5"/><circle cx="1244" cy="820" r="5"/><circle cx="1256" cy="824" r="5"/><circle cx="1248" cy="828" r="5"/><circle cx="1260" cy="813" r="5"/>
<circle cx="1355" cy="694" r="5"/><circle cx="1348" cy="738" r="5"/><circle cx="1362" cy="745" r="5"/><circle cx="1346" cy="760" r="5"/><circle cx="1364" cy="768" r="5"/><circle cx="1352" cy="778" r="5"/><circle cx="1360" cy="788" r="5"/><circle cx="1350" cy="800" r="5"/></g>
<g class="r"><circle cx="1291" cy="774" r="5"/><circle cx="1284" cy="808" r="5"/><circle cx="1298" cy="815" r="5"/><circle cx="1282" cy="822" r="5"/><circle cx="1300" cy="826" r="5"/><circle cx="1288" cy="829" r="5"/><circle cx="1296" cy="831" r="5"/><circle cx="1286" cy="826" r="5"/>
<circle cx="1393" cy="680" r="5"/><circle cx="1386" cy="738" r="5"/><circle cx="1400" cy="745" r="5"/><circle cx="1384" cy="755" r="5"/><circle cx="1402" cy="762" r="5"/><circle cx="1390" cy="772" r="5"/><circle cx="1398" cy="785" r="5"/><circle cx="1388" cy="793" r="5"/></g>
<g class="ax"><line x1="1225" y1="661" x2="1225" y2="854"/><line x1="1225" y1="854" x2="1425" y2="854"/>
<line x1="1220" y1="854" x2="1225" y2="854"/><line x1="1220" y1="806" x2="1225" y2="806"/><line x1="1220" y1="757" x2="1225" y2="757"/><line x1="1220" y1="709" x2="1225" y2="709"/><line x1="1220" y1="661" x2="1225" y2="661"/>
<line x1="1272" y1="854" x2="1272" y2="859"/><line x1="1374" y1="854" x2="1374" y2="859"/></g>
<g text-anchor="end"><text x="1218" y="860">0</text><text x="1218" y="812">50</text><text x="1220" y="763">100</text><text x="1220" y="715">150</text><text x="1220" y="667">200</text></g>
<line x1="1253" y1="766" x2="1291" y2="766" stroke="#000" stroke-width="2"/><text x="1272" y="756" text-anchor="middle">ns</text>
<line x1="1355" y1="670" x2="1393" y2="670" stroke="#000" stroke-width="2"/><text x="1374" y="661" text-anchor="middle">ns</text>
<circle cx="1236" cy="675" r="6" class="g"/><circle cx="1236" cy="701" r="6" class="r"/>
<text x="1256" y="680">AAV-GFP</text><text x="1256" y="706" fill="#ff6a00">AAV-Irisin</text>
<text transform="translate(1162,750) rotate(-90)" text-anchor="middle">Distance traveled</text>
<text transform="translate(1182,750) rotate(-90)" text-anchor="middle">(meter/12 hrs)</text>
<text x="1256" y="877">Light</text><text x="1358" y="877">Dark</text>

<!-- J left -->
<use href="#jl" x="55" y="1173"/><use href="#jl" x="82" y="1173"/><use href="#jl" x="109" y="1173"/><use href="#jl" x="135" y="1173"/><use href="#jl" x="162" y="1173"/><use href="#jl" x="189" y="1173"/><use href="#jl" x="216" y="1173"/><use href="#jl" x="243" y="1173"/><use href="#jl" x="269" y="1173"/><use href="#jl" x="296" y="1173"/><use href="#jl" x="323" y="1173"/><use href="#jl" x="350" y="1173"/><use href="#jl" x="377" y="1173"/><use href="#jl" x="403" y="1173"/><use href="#jl" x="430" y="1173"/><use href="#jl" x="457" y="1173"/><use href="#jl" x="484" y="1173"/><use href="#jl" x="511" y="1173"/>
<rect x="190" y="1111" width="8" height="62" fill="#f7931e"/><rect x="351" y="1108" width="8" height="65" fill="#f7931e"/>
<g stroke="#f7931e" stroke-width="1.5"><line x1="194" y1="1111" x2="194" y2="1066"/><line x1="190" y1="1066" x2="198" y2="1066"/><line x1="355" y1="1108" x2="355" y2="1068"/><line x1="351" y1="1068" x2="359" y2="1068"/><line x1="462" y1="1134" x2="462" y2="1078"/><line x1="489" y1="1134" x2="489" y2="1085"/><line x1="381" y1="1134" x2="381" y2="1109"/></g>
<g stroke="#000" stroke-width="1.5"><line x1="183" y1="1134" x2="183" y2="1107"/><line x1="451" y1="1134" x2="451" y2="1089"/></g>
<g fill="#fff" stroke-width="2"><circle cx="194" cy="1050" r="3" stroke="#f7931e"/><circle cx="194" cy="1076" r="3" stroke="#f7931e"/><circle cx="355" cy="1035" r="3" stroke="#f7931e"/><circle cx="355" cy="1050" r="3" stroke="#f7931e"/><circle cx="462" cy="1005" r="3" stroke="#f7931e"/><circle cx="489" cy="1068" r="3" stroke="#f7931e"/><circle cx="141" cy="1098" r="3" stroke="#f7931e"/><circle cx="381" cy="1099" r="3" stroke="#f7931e"/><circle cx="435" cy="1100" r="3" stroke="#f7931e"/>
<circle cx="183" cy="1095" r="3" stroke="#000"/><circle cx="451" cy="1056" r="3" stroke="#000"/><circle cx="451" cy="1072" r="3" stroke="#000"/><circle cx="451" cy="1170" r="3" stroke="#000"/><circle cx="424" cy="1098" r="3" stroke="#000"/></g>
<g class="ax"><line x1="40" y1="978" x2="40" y2="1173"/><line x1="40" y1="1173" x2="522" y2="1173"/>
<line x1="35" y1="1173" x2="40" y2="1173"/><line x1="35" y1="1134" x2="40" y2="1134"/><line x1="35" y1="1095" x2="40" y2="1095"/><line x1="35" y1="1056" x2="40" y2="1056"/><line x1="35" y1="1017" x2="40" y2="1017"/><line x1="35" y1="978" x2="40" y2="978"/></g>
<g text-anchor="end"><text x="37" y="1179">0</text><text x="37" y="1140">1</text><text x="37" y="1101">2</text><text x="37" y="1062">3</text><text x="37" y="1023">4</text><text x="37" y="984">5</text></g>
<g font-size="16" font-style="italic" text-anchor="end">
<text transform="translate(61,1185) rotate(-60)">Fabp4</text><text transform="translate(88,1185) rotate(-60)">Pparg</text><text transform="translate(115,1185) rotate(-60)">Ppargc1a</text><text transform="translate(141,1185) rotate(-60)">Prdm16</text><text transform="translate(168,1185) rotate(-60)">Adipoq</text><text transform="translate(195,1185) rotate(-60)">Ucp1</text><text transform="translate(222,1185) rotate(-60)">Leptin</text><text transform="translate(249,1185) rotate(-60)">Ckb</text><text transform="translate(275,1185) rotate(-60)">Alpl</text><text transform="translate(302,1185) rotate(-60)">Gatm</text><text transform="translate(329,1185) rotate(-60)">Enpp1</text><text transform="translate(356,1185) rotate(-60)">Phospho1</text><text transform="translate(383,1185) rotate(-60)">Slc6a8</text><text transform="translate(409,1185) rotate(-60)">Ckm</text><text transform="translate(436,1185) rotate(-60)">Dio2</text><text transform="translate(463,1185) rotate(-60)">Elovl3</text><text transform="translate(490,1185) rotate(-60)">Cox8b</text><text transform="translate(517,1185) rotate(-60)">Cidea</text></g>
<text x="189" y="1032" text-anchor="middle" font-size="20">*</text><line x1="178" y1="1033" x2="198" y2="1033" stroke="#000" stroke-width="2"/>
<text x="348" y="1027" text-anchor="middle" font-size="20">**</text><line x1="338" y1="1028" x2="360" y2="1028" stroke="#000" stroke-width="2"/>
<text x="135" y="968" font-size="16">iWAT, HFD-fed mice treated with AAV for 10 wks</text>
<text transform="translate(16,1075) rotate(-90)" text-anchor="middle">mRNA, fold change</text>
<circle cx="64" cy="998" r="3.5" fill="#fff" stroke="#000" stroke-width="2"/><circle cx="64" cy="1024" r="3.5" fill="#fff" stroke="#f7931e" stroke-width="2"/>
<text x="85" y="1003">AAV-GFP</text><text x="85" y="1029" fill="#f7931e">AAV-Irisin</text>

<!-- J right -->
<use href="#jr" x="590" y="1173"/><use href="#jr" x="617" y="1173"/><use href="#jr" x="644" y="1173"/><use href="#jr" x="670" y="1173"/><use href="#jr" x="697" y="1173"/><use href="#jr" x="724" y="1173"/><use href="#jr" x="751" y="1173"/><use href="#jr" x="778" y="1173"/><use href="#jr" x="804" y="1173"/><use href="#jr" x="831" y="1173"/><use href="#jr" x="858" y="1173"/><use href="#jr" x="885" y="1173"/><use href="#jr" x="912" y="1173"/><use href="#jr" x="938" y="1173"/><use href="#jr" x="965" y="1173"/><use href="#jr" x="992" y="1173"/><use href="#jr" x="1019" y="1173"/><use href="#jr" x="1046" y="1173"/>
<rect x="966" y="1131" width="8" height="42" fill="#f7931e"/><rect x="993" y="1129" width="8" height="44" fill="#f7931e"/>
<g fill="#fff" stroke-width="2"><circle cx="986" cy="995" r="3" stroke="#000"/><circle cx="986" cy="1020" r="3" stroke="#000"/><circle cx="986" cy="1150" r="3" stroke="#000"/><circle cx="997" cy="1022" r="3" stroke="#f7931e"/><circle cx="970" cy="1060" r="3" stroke="#f7931e"/><circle cx="728" cy="1053" r="3" stroke="#f7931e"/><circle cx="718" cy="1055" r="3" stroke="#000"/><circle cx="674" cy="1053" r="3" stroke="#f7931e"/><circle cx="997" cy="1160" r="3" stroke="#f7931e"/></g>
<g class="ax"><line x1="575" y1="978" x2="575" y2="1173"/><line x1="575" y1="1173" x2="1055" y2="1173"/>
<line x1="570" y1="1173" x2="575" y2="1173"/><line x1="570" y1="1134" x2="575" y2="1134"/><line x1="570" y1="1095" x2="575" y2="1095"/><line x1="570" y1="1056" x2="575" y2="1056"/><line x1="570" y1="1017" x2="575" y2="1017"/><line x1="570" y1="978" x2="575" y2="978"/></g>
<g text-anchor="end"><text x="570" y="1179">0.0</text><text x="570" y="1140">0.5</text><text x="570" y="1101">1.0</text><text x="570" y="1062">1.5</text><text x="570" y="1023">2.0</text><text x="570" y="984">2.5</text></g>
<g font-size="16" font-style="italic" text-anchor="end">
<text transform="translate(596,1185) rotate(-60)">Fabp4</text><text transform="translate(623,1185) rotate(-60)">Pparg</text><text transform="translate(650,1185) rotate(-60)">Ppargc1a</text><text transform="translate(676,1185) rotate(-60)">Prdm16</text><text transform="translate(703,1185) rotate(-60)">Adipoq</text><text transform="translate(730,1185) rotate(-60)">Ucp1</text><text transform="translate(757,1185) rotate(-60)">Leptin</text><text transform="translate(784,1185) rotate(-60)">Ckb</text><text transform="translate(810,1185) rotate(-60)">Alpl</text><text transform="translate(837,1185) rotate(-60)">Gatm</text><text transform="translate(864,1185) rotate(-60)">Enpp1</text><text transform="translate(891,1185) rotate(-60)">Phospho1</text><text transform="translate(918,1185) rotate(-60)">Slc6a8</text><text transform="translate(944,1185) rotate(-60)">Ckm</text><text transform="translate(971,1185) rotate(-60)">Dio2</text><text transform="translate(998,1185) rotate(-60)">Elovl3</text><text transform="translate(1025,1185) rotate(-60)">Cox8b</text><text transform="translate(1052,1185) rotate(-60)">Cidea</text></g>
<text x="987" y="986" text-anchor="middle" font-size="20">**</text>
<text x="652" y="968" font-size="16">eWAT, HFD-fed mice treated with AAV for 10 wks</text>
<text transform="translate(538,1075) rotate(-90)" text-anchor="middle">mRNA, fold change</text>
<circle cx="597" cy="998" r="3.5" fill="#fff" stroke="#000" stroke-width="2"/><circle cx="597" cy="1024" r="3.5" fill="#fff" stroke="#f7931e" stroke-width="2"/>
<text x="617" y="1003">AAV-GFP</text><text x="617" y="1029" fill="#f7931e">AAV-Irisin</text>

<!-- K -->
<g class="ax"><line x1="1148" y1="968" x2="1148" y2="1178"/><line x1="1148" y1="1178" x2="1288" y2="1178"/>
<line x1="1143" y1="1178" x2="1148" y2="1178"/><line x1="1143" y1="1136" x2="1148" y2="1136"/><line x1="1143" y1="1094" x2="1148" y2="1094"/><line x1="1143" y1="1052" x2="1148" y2="1052"/><line x1="1143" y1="1010" x2="1148" y2="1010"/><line x1="1143" y1="968" x2="1148" y2="968"/>
<line x1="1183" y1="1178" x2="1183" y2="1183"/><line x1="1240" y1="1178" x2="1240" y2="1183"/></g>
<g text-anchor="end"><text x="1141" y="1184">0</text><text x="1141" y="1142">100</text><text x="1141" y="1100">200</text><text x="1141" y="1058">300</text><text x="1141" y="1016">400</text><text x="1141" y="974">500</text></g>
<g transform="translate(1183,0)"><circle cx="-2" cy="987" r="5"/><circle cx="8" cy="1039" r="5"/><circle cx="-8" cy="1056" r="5"/><circle cx="10" cy="1065" r="5"/><circle cx="-10" cy="1077" r="5"/><circle cx="2" cy="1094" r="5"/><circle cx="-4" cy="1115" r="5"/><circle cx="12" cy="1098" r="5"/>
<g stroke="#000" stroke-width="2"><line x1="-22" y1="1065" x2="22" y2="1065"/><line x1="0" y1="1023" x2="0" y2="1107"/><line x1="-12" y1="1023" x2="12" y2="1023"/><line x1="-12" y1="1107" x2="12" y2="1107"/></g></g>
<g transform="translate(1240,0)" class="o"><circle cx="-10" cy="1096" r="5"/><circle cx="8" cy="1100" r="5"/><circle cx="-4" cy="1107" r="5"/><circle cx="12" cy="1109" r="5"/><circle cx="-8" cy="1115" r="5"/><circle cx="4" cy="1119" r="5"/><circle cx="-2" cy="1128" r="5"/><circle cx="10" cy="1094" r="5"/>
<g stroke="#f7931e" stroke-width="2"><line x1="-22" y1="1109" x2="22" y2="1109"/><line x1="0" y1="1092" x2="0" y2="1126"/><line x1="-12" y1="1092" x2="12" y2="1092"/><line x1="-12" y1="1126" x2="12" y2="1126"/></g></g>
<line x1="1182" y1="972" x2="1237" y2="972" stroke="#000" stroke-width="2"/><text x="1210" y="968" text-anchor="middle" font-size="22">*</text>
<text x="1098" y="1213">AAV</text><text x="1165" y="1213">GFP</text><text x="1222" y="1213">Irisin</text>
<text transform="translate(1095,1075) rotate(-90)" text-anchor="middle"># CD45⁺ cells (X10⁴) / g tissue</text>

<!-- L -->
<g class="ax"><line x1="1326" y1="964" x2="1326" y2="1180"/><line x1="1326" y1="1180" x2="1466" y2="1180"/>
<line x1="1321" y1="1180" x2="1326" y2="1180"/><line x1="1321" y1="1108" x2="1326" y2="1108"/><line x1="1321" y1="1036" x2="1326" y2="1036"/><line x1="1321" y1="964" x2="1326" y2="964"/>
<line x1="1370" y1="1180" x2="1370" y2="1185"/><line x1="1433" y1="1180" x2="1433" y2="1185"/></g>
<g text-anchor="end"><text x="1319" y="1186">0</text><text x="1319" y="1114">20</text><text x="1319" y="1042">40</text><text x="1319" y="970">60</text></g>
<g transform="translate(1370,0)"><circle cx="-2" cy="993" r="5"/><circle cx="8" cy="1022" r="5"/><circle cx="-8" cy="1032" r="5"/><circle cx="10" cy="1043" r="5"/><circle cx="-10" cy="1054" r="5"/><circle cx="2" cy="1061" r="5"/><circle cx="-4" cy="1079" r="5"/><circle cx="12" cy="1083" r="5"/>
<g stroke="#000" stroke-width="2"><line x1="-22" y1="1047" x2="22" y2="1047"/><line x1="0" y1="1018" x2="0" y2="1076"/><line x1="-12" y1="1018" x2="12" y2="1018"/><line x1="-12" y1="1076" x2="12" y2="1076"/></g></g>
<g transform="translate(1433,0)" class="o"><circle cx="-2" cy="989" r="5"/><circle cx="8" cy="1000" r="5"/><circle cx="-8" cy="1011" r="5"/><circle cx="10" cy="1018" r="5"/><circle cx="-10" cy="1025" r="5"/><circle cx="2" cy="1032" r="5"/><circle cx="-4" cy="1043" r="5"/><circle cx="12" cy="1054" r="5"/>
<g stroke="#f7931e" stroke-width="2"><line x1="-22" y1="1025" x2="22" y2="1025"/><line x1="0" y1="1000" x2="0" y2="1050"/><line x1="-12" y1="1000" x2="12" y2="1000"/><line x1="-12" y1="1050" x2="12" y2="1050"/></g></g>
<text x="1350" y="1213">GFP</text><text x="1413" y="1213">Irisin</text>
<text transform="translate(1296,1075) rotate(-90)" text-anchor="middle">% MFs of CD45⁺ cells</text>

<!-- M -->
<g class="ax"><line x1="70" y1="1318" x2="70" y2="1532"/><line x1="70" y1="1532" x2="210" y2="1532"/>
<line x1="65" y1="1532" x2="70" y2="1532"/><line x1="65" y1="1489" x2="70" y2="1489"/><line x1="65" y1="1446" x2="70" y2="1446"/><line x1="65" y1="1404" x2="70" y2="1404"/><line x1="65" y1="1361" x2="70" y2="1361"/><line x1="65" y1="1318" x2="70" y2="1318"/>
<line x1="112" y1="1532" x2="112" y2="1537"/><line x1="170" y1="1532" x2="170" y2="1537"/></g>
<g text-anchor="end"><text x="63" y="1538">0</text><text x="63" y="1495">5</text><text x="63" y="1452">10</text><text x="63" y="1410">15</text><text x="63" y="1367">20</text><text x="63" y="1324">25</text></g>
<g transform="translate(112,0)"><circle cx="-2" cy="1350" r="5"/><circle cx="10" cy="1346" r="5"/><circle cx="-8" cy="1369" r="5"/><circle cx="8" cy="1386" r="5"/><circle cx="-10" cy="1395" r="5"/><circle cx="2" cy="1404" r="5"/><circle cx="-4" cy="1412" r="5"/><circle cx="0" cy="1438" r="5"/>
<g stroke="#000" stroke-width="2"><line x1="-22" y1="1384" x2="22" y2="1384"/><line x1="0" y1="1354" x2="0" y2="1414"/><line x1="-12" y1="1354" x2="12" y2="1354"/><line x1="-12" y1="1414" x2="12" y2="1414"/></g></g>
<g transform="translate(170,0)" class="o"><circle cx="-8" cy="1333" r="5"/><circle cx="10" cy="1333" r="5"/><circle cx="-2" cy="1344" r="5"/><circle cx="8" cy="1361" r="5"/><circle cx="-10" cy="1361" r="5"/><circle cx="2" cy="1378" r="5"/><circle cx="-4" cy="1386" r="5"/><circle cx="0" cy="1421" r="5"/>
<g stroke="#f7931e" stroke-width="2"><line x1="-22" y1="1361" x2="22" y2="1361"/><line x1="0" y1="1333" x2="0" y2="1389"/><line x1="-12" y1="1333" x2="12" y2="1333"/><line x1="-12" y1="1389" x2="12" y2="1389"/></g></g>
<text x="30" y="1566">AAV</text><text x="94" y="1566">GFP</text><text x="151" y="1566">Irisin</text>
<text transform="translate(33,1430) rotate(-90)" text-anchor="middle">% CD11c<tspan font-size="11" dy="-6">high</tspan><tspan dy="6"> of MFs</tspan></text>

<!-- N1 -->
<g class="ax"><line x1="275" y1="1322" x2="275" y2="1532"/><line x1="275" y1="1532" x2="415" y2="1532"/>
<line x1="270" y1="1532" x2="275" y2="1532"/><line x1="270" y1="1480" x2="275" y2="1480"/><line x1="270" y1="1427" x2="275" y2="1427"/><line x1="270" y1="1375" x2="275" y2="1375"/><line x1="270" y1="1322" x2="275" y2="1322"/>
<line x1="326" y1="1532" x2="326" y2="1537"/><line x1="393" y1="1532" x2="393" y2="1537"/></g>
<g text-anchor="end"><text x="268" y="1538">0</text><text x="268" y="1486">20</text><text x="268" y="1433">40</text><text x="268" y="1381">60</text><text x="268" y="1328">80</text></g>
<g transform="translate(326,0)"><circle cx="0" cy="1361" r="5"/><circle cx="8" cy="1380" r="5"/><circle cx="-10" cy="1388" r="5"/><circle cx="10" cy="1401" r="5"/><circle cx="-8" cy="1406" r="5"/><circle cx="2" cy="1414" r="5"/><circle cx="-4" cy="1427" r="5"/><circle cx="12" cy="1435" r="5"/>
<g stroke="#000" stroke-width="2"><line x1="-22" y1="1401" x2="22" y2="1401"/><line x1="0" y1="1376" x2="0" y2="1426"/><line x1="-12" y1="1376" x2="12" y2="1376"/><line x1="-12" y1="1426" x2="12" y2="1426"/></g></g>
<g transform="translate(393,0)" class="o"><circle cx="10" cy="1382" r="5"/><circle cx="-6" cy="1388" r="5"/><circle cx="4" cy="1401" r="5"/><circle cx="-10" cy="1414" r="5"/><circle cx="8" cy="1419" r="5"/><circle cx="-8" cy="1432" r="5"/><circle cx="2" cy="1435" r="5"/><circle cx="12" cy="1437" r="5"/>
<g stroke="#f7931e" stroke-width="2"><line x1="-22" y1="1414" x2="22" y2="1414"/><line x1="0" y1="1392" x2="0" y2="1436"/><line x1="-12" y1="1392" x2="12" y2="1392"/><line x1="-12" y1="1436" x2="12" y2="1436"/></g></g>
<text x="307" y="1566">GFP</text><text x="374" y="1566">Irisin</text>
<text transform="translate(242,1430) rotate(-90)" text-anchor="middle">% TCRβ⁺ of CD45⁺ cells</text>

<!-- N2 -->
<g class="ax"><line x1="500" y1="1325" x2="500" y2="1532"/><line x1="500" y1="1532" x2="640" y2="1532"/>
<line x1="495" y1="1532" x2="500" y2="1532"/><line x1="495" y1="1480" x2="500" y2="1480"/><line x1="495" y1="1428" x2="500" y2="1428"/><line x1="495" y1="1377" x2="500" y2="1377"/><line x1="495" y1="1325" x2="500" y2="1325"/>
<line x1="545" y1="1532" x2="545" y2="1537"/><line x1="610" y1="1532" x2="610" y2="1537"/></g>
<g text-anchor="end"><text x="493" y="1538">0</text><text x="493" y="1486">20</text><text x="493" y="1434">40</text><text x="493" y="1383">60</text><text x="493" y="1331">80</text></g>
<g transform="translate(545,0)"><circle cx="0" cy="1338" r="5"/><circle cx="8" cy="1364" r="5"/><circle cx="-10" cy="1390" r="5"/><circle cx="10" cy="1397" r="5"/><circle cx="-8" cy="1408" r="5"/><circle cx="-14" cy="1428" r="5"/><circle cx="14" cy="1428" r="5"/><circle cx="0" cy="1431" r="5"/>
<g stroke="#000" stroke-width="2"><line x1="-22" y1="1397" x2="22" y2="1397"/><line x1="0" y1="1366" x2="0" y2="1428"/><line x1="-12" y1="1366" x2="12" y2="1366"/><line x1="-12" y1="1428" x2="12" y2="1428"/></g></g>
<g transform="translate(610,0)" class="o"><circle cx="-4" cy="1338" r="5"/><circle cx="10" cy="1369" r="5"/><circle cx="-10" cy="1390" r="5"/><circle cx="8" cy="1397" r="5"/><circle cx="-6" cy="1402" r="5"/><circle cx="4" cy="1410" r="5"/><circle cx="-12" cy="1428" r="5"/><circle cx="12" cy="1430" r="5"/>
<g stroke="#f7931e" stroke-width="2"><line x1="-22" y1="1395" x2="22" y2="1395"/><line x1="0" y1="1367" x2="0" y2="1423"/><line x1="-12" y1="1367" x2="12" y2="1367"/><line x1="-12" y1="1423" x2="12" y2="1423"/></g></g>
<text x="525" y="1566">GFP</text><text x="591" y="1566">Irisin</text>
<text transform="translate(466,1430) rotate(-90)" text-anchor="middle">% CD8⁺ of TCRβ⁺ cells</text>

<!-- N3 -->
<g class="ax"><line x1="712" y1="1322" x2="712" y2="1532"/><line x1="712" y1="1532" x2="852" y2="1532"/>
<line x1="707" y1="1532" x2="712" y2="1532"/><line x1="707" y1="1490" x2="712" y2="1490"/><line x1="707" y1="1448" x2="712" y2="1448"/><line x1="707" y1="1406" x2="712" y2="1406"/><line x1="707" y1="1364" x2="712" y2="1364"/><line x1="707" y1="1322" x2="712" y2="1322"/>
<line x1="750" y1="1532" x2="750" y2="1537"/><line x1="818" y1="1532" x2="818" y2="1537"/></g>
<g text-anchor="end"><text x="705" y="1538">0</text><text x="705" y="1496">10</text><text x="705" y="1454">20</text><text x="705" y="1412">30</text><text x="705" y="1370">40</text><text x="705" y="1328">50</text></g>
<g transform="translate(750,0)"><circle cx="4" cy="1351" r="5"/><circle cx="-8" cy="1368" r="5"/><circle cx="10" cy="1377" r="5"/><circle cx="-10" cy="1398" r="5"/><circle cx="2" cy="1406" r="5"/><circle cx="12" cy="1410" r="5"/><circle cx="8" cy="1448" r="5"/><circle cx="-6" cy="1469" r="5"/>
<g stroke="#000" stroke-width="2"><line x1="-22" y1="1406" x2="22" y2="1406"/><line x1="0" y1="1370" x2="0" y2="1442"/><line x1="-12" y1="1370" x2="12" y2="1370"/><line x1="-12" y1="1442" x2="12" y2="1442"/></g></g>
<g transform="translate(818,0)" class="o"><circle cx="-8" cy="1385" r="5"/><circle cx="10" cy="1389" r="5"/><circle cx="2" cy="1398" r="5"/><circle cx="-10" cy="1414" r="5"/><circle cx="8" cy="1419" r="5"/><circle cx="-4" cy="1448" r="5"/><circle cx="6" cy="1456" r="5"/><circle cx="0" cy="1482" r="5"/>
<g stroke="#f7931e" stroke-width="2"><line x1="-22" y1="1416" x2="22" y2="1416"/><line x1="0" y1="1387" x2="0" y2="1445"/><line x1="-12" y1="1387" x2="12" y2="1387"/><line x1="-12" y1="1445" x2="12" y2="1445"/></g></g>
<text x="731" y="1566">GFP</text><text x="799" y="1566">Irisin</text>
<text transform="translate(678,1430) rotate(-90)" text-anchor="middle">% Foxp3⁻CD4⁺ of TCRβ⁺ cells</text>

<!-- O1 -->
<g class="ax"><line x1="918" y1="1325" x2="918" y2="1532"/><line x1="918" y1="1532" x2="1058" y2="1532"/>
<line x1="913" y1="1532" x2="918" y2="1532"/><line x1="913" y1="1480" x2="918" y2="1480"/><line x1="913" y1="1429" x2="918" y2="1429"/><line x1="913" y1="1377" x2="918" y2="1377"/><line x1="913" y1="1325" x2="918" y2="1325"/>
<line x1="958" y1="1532" x2="958" y2="1537"/><line x1="1025" y1="1532" x2="1025" y2="1537"/></g>
<g text-anchor="end"><text x="911" y="1538">0</text><text x="911" y="1486">10</text><text x="911" y="1435">20</text><text x="911" y="1383">30</text><text x="911" y="1331">40</text></g>
<g transform="translate(958,0)"><circle cx="2" cy="1359" r="5"/><circle cx="-8" cy="1392" r="5"/><circle cx="10" cy="1413" r="5"/><circle cx="-10" cy="1423" r="5"/><circle cx="6" cy="1429" r="5"/><circle cx="-4" cy="1439" r="5"/><circle cx="-10" cy="1449" r="5"/><circle cx="10" cy="1449" r="5"/>
<g stroke="#000" stroke-width="2"><line x1="-22" y1="1421" x2="22" y2="1421"/><line x1="0" y1="1390" x2="0" y2="1452"/><line x1="-12" y1="1390" x2="12" y2="1390"/><line x1="-12" y1="1452" x2="12" y2="1452"/></g></g>
<g transform="translate(1025,0)" class="o"><circle cx="-10" cy="1387" r="5"/><circle cx="10" cy="1387" r="5"/><circle cx="2" cy="1403" r="5"/><circle cx="-8" cy="1418" r="5"/><circle cx="8" cy="1429" r="5"/><circle cx="-4" cy="1439" r="5"/><circle cx="6" cy="1454" r="5"/><circle cx="-2" cy="1470" r="5"/>
<g stroke="#f7931e" stroke-width="2"><line x1="-22" y1="1421" x2="22" y2="1421"/><line x1="0" y1="1387" x2="0" y2="1455"/><line x1="-12" y1="1387" x2="12" y2="1387"/><line x1="-12" y1="1455" x2="12" y2="1455"/></g></g>
<text x="939" y="1566">GFP</text><text x="1006" y="1566">Irisin</text>
<text transform="translate(883,1430) rotate(-90)" text-anchor="middle">% Foxp3⁺ of CD4⁺ cells</text>

<!-- O2 -->
<g class="ax"><line x1="1128" y1="1328" x2="1128" y2="1532"/><line x1="1128" y1="1532" x2="1268" y2="1532"/>
<line x1="1123" y1="1532" x2="1128" y2="1532"/><line x1="1123" y1="1464" x2="1128" y2="1464"/><line x1="1123" y1="1396" x2="1128" y2="1396"/><line x1="1123" y1="1328" x2="1128" y2="1328"/>
<line x1="1160" y1="1532" x2="1160" y2="1537"/><line x1="1228" y1="1532" x2="1228" y2="1537"/></g>
<g text-anchor="end"><text x="1121" y="1538">0</text><text x="1121" y="1470">20</text><text x="1121" y="1402">40</text><text x="1121" y="1334">60</text></g>
<g transform="translate(1160,0)"><circle cx="-8" cy="1386" r="5"/><circle cx="8" cy="1393" r="5"/><circle cx="-10" cy="1413" r="5"/><circle cx="10" cy="1420" r="5"/><circle cx="2" cy="1430" r="5"/><circle cx="-6" cy="1447" r="5"/><circle cx="8" cy="1464" r="5"/><circle cx="-2" cy="1474" r="5"/>
<g stroke="#000" stroke-width="2"><line x1="-22" y1="1423" x2="22" y2="1423"/><line x1="0" y1="1387" x2="0" y2="1459"/><line x1="-12" y1="1387" x2="12" y2="1387"/><line x1="-12" y1="1459" x2="12" y2="1459"/></g></g>
<g transform="translate(1228,0)" class="o"><circle cx="-8" cy="1342" r="5"/><circle cx="10" cy="1345" r="5"/><circle cx="-10" cy="1379" r="5"/><circle cx="8" cy="1396" r="5"/><circle cx="-4" cy="1406" r="5"/><circle cx="12" cy="1413" r="5"/><circle cx="-12" cy="1430" r="5"/><circle cx="2" cy="1440" r="5"/>
<g stroke="#f7931e" stroke-width="2"><line x1="-22" y1="1403" x2="22" y2="1403"/><line x1="0" y1="1364" x2="0" y2="1442"/><line x1="-12" y1="1364" x2="12" y2="1364"/><line x1="-12" y1="1442" x2="12" y2="1442"/></g></g>
<text x="1141" y="1566">GFP</text><text x="1209" y="1566">Irisin</text>
<text transform="translate(1092,1430) rotate(-90)" text-anchor="middle">% ST2⁺ of Treg cells</text>
</g>
</svg>
</body></html>
